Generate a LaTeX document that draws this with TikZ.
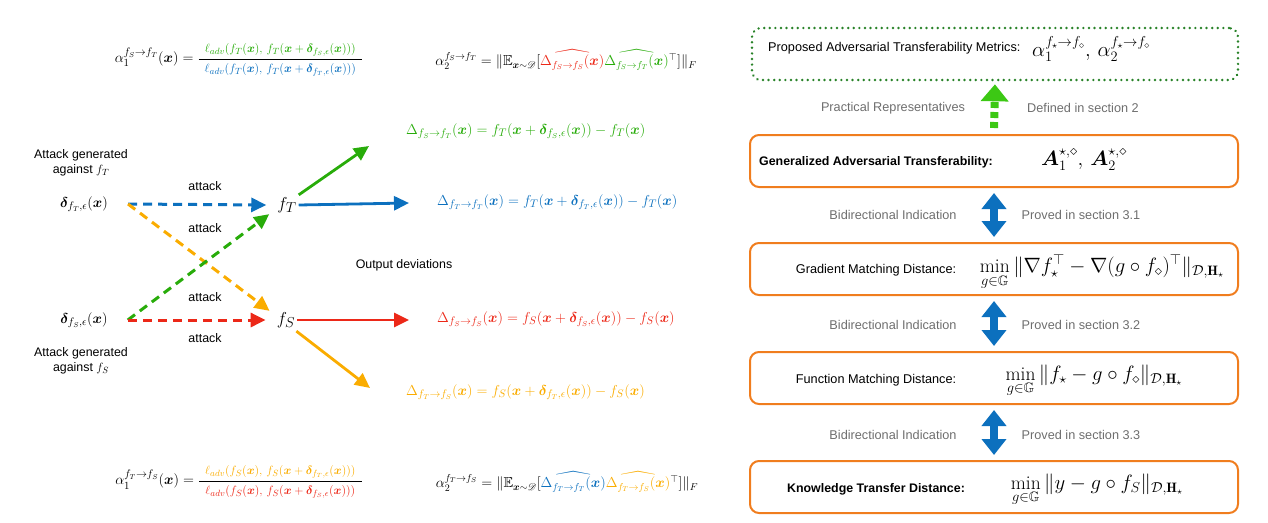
\documentclass[tikz,border=0pt]{standalone}
\usepackage{amsmath,amssymb,bm,mathrsfs}
\usepackage{fontspec}
\setsansfont{Liberation Sans}
\usetikzlibrary{arrows.meta}
\definecolor{cgreen}{RGB}{40,172,10}
\definecolor{cblue}{RGB}{12,112,190}
\definecolor{cred}{RGB}{236,40,24}
\definecolor{corange}{RGB}{250,172,0}
\definecolor{boxorange}{RGB}{240,125,30}
\definecolor{dotgreen}{RGB}{40,130,40}
\definecolor{brightgreen}{RGB}{60,200,20}
\definecolor{cgray}{RGB}{110,110,110}
\newcommand{\numsize}{\fontsize{13}{15}\selectfont}
\newcommand{\fracpart}[1]{\text{\numsize\hspace{6pt}$#1$\hspace{6pt}}}
\begin{document}
\begin{tikzpicture}[x=1pt,y=-1pt,
  lbl/.style={font=\sffamily\fontsize{12.4}{15}\selectfont, inner sep=1pt},
  rlbl/.style={font=\sffamily\fontsize{12.7}{15}\selectfont, inner sep=1pt},
  glbl/.style={rlbl, text=cgray},
  blbl/.style={font=\sffamily\bfseries\fontsize{12.4}{15}\selectfont, inner sep=1pt},
  mth/.style={font=\fontsize{15}{17}\selectfont, inner sep=1pt},
  smth/.style={font=\fontsize{14.5}{17}\selectfont, inner sep=1pt},
  bigm/.style={font=\fontsize{15}{17}\selectfont, inner sep=1pt},
  fnode/.style={font=\fontsize{19}{21}\selectfont, inner sep=2pt},
  rmth/.style={font=\fontsize{19.5}{22}\selectfont, inner sep=1pt},
  dasharrow/.style={line width=3pt, dash pattern=on 9pt off 6pt, -{Triangle[width=14pt,length=15pt]}},
  solarrow/.style={line width=2.8pt, -{Triangle[width=14pt,length=15pt]}},
  bigbox/.style={draw=boxorange, line width=2pt, rounded corners=9pt, minimum width=488pt, minimum height=52pt},
  dblarrow/.style={draw=cblue, line width=8.5pt, {Triangle[width=24pt,length=16pt]}-{Triangle[width=24pt,length=16pt]}, shorten <=5pt, shorten >=5pt}
]
\useasboundingbox (0,0) rectangle (1268,522);

% ---------- top formulas ----------
\node[bigm] (a1top) at (239,60) {$\alpha_1^{f_S\to f_T}(\bm{x}) = \dfrac{\fracpart{\color{cgreen}\ell_{adv}(f_T(\bm{x}),\, f_T(\bm{x}+\bm{\delta}_{f_S,\epsilon}(\bm{x})))}}{\fracpart{\color{cblue}\ell_{adv}(f_T(\bm{x}),\, f_T(\bm{x}+\bm{\delta}_{f_T,\epsilon}(\bm{x})))}}$};
\node[smth] (a2top) at (566,60) {$\alpha_2^{f_S\to f_T} = \|\mathbb{E}_{\bm{x}\sim\mathscr{D}}[{\color{cred}\widehat{\Delta_{f_S\to f_S}(\bm{x})}}{\color{cgreen}\widehat{\Delta_{f_S\to f_T}(\bm{x})}}^{\top}]\|_F$};

% ---------- bottom formulas ----------
\node[bigm] (a1bot) at (239,482) {$\alpha_1^{f_T\to f_S}(\bm{x}) = \dfrac{\fracpart{\color{corange}\ell_{adv}(f_S(\bm{x}),\, f_S(\bm{x}+\bm{\delta}_{f_T,\epsilon}(\bm{x})))}}{\fracpart{\color{cred}\ell_{adv}(f_S(\bm{x}),\, f_S(\bm{x}+\bm{\delta}_{f_S,\epsilon}(\bm{x})))}}$};
\node[smth] (a2bot) at (567,482) {$\alpha_2^{f_T\to f_S} = \|\mathbb{E}_{\bm{x}\sim\mathscr{D}}[{\color{cblue}\widehat{\Delta_{f_T\to f_T}(\bm{x})}}{\color{corange}\widehat{\Delta_{f_T\to f_S}(\bm{x})}}^{\top}]\|_F$};

% ---------- left graph ----------
\node[lbl, align=center] (atT) at (81,163) {Attack generated\\against $f_T$};
\node[bigm] (dT) at (84,204) {$\bm{\delta}_{f_T,\epsilon}(\bm{x})$};
\node[bigm] (dS) at (84,320) {$\bm{\delta}_{f_S,\epsilon}(\bm{x})$};
\node[lbl, align=center] (atS) at (81,361) {Attack generated\\against $f_S$};
\node[fnode] (fT) at (287,205) {$f_T$};
\node[fnode] (fS) at (286,320) {$f_S$};

\node[lbl] (l1) at (205,186) {attack};
\node[lbl] (l2) at (205,228) {attack};
\node[lbl] (l3) at (205,297) {attack};
\node[lbl] (l4) at (205,338) {attack};
\node[lbl] (od) at (404,265) {Output deviations};

\draw[dasharrow, cblue] ([xshift=19pt]dT.east) -- ([xshift=-9pt]fT.west);
\draw[dasharrow, corange] ([xshift=19pt]dT.east) -- ([xshift=-5pt,yshift=-1pt]fS.north west);
\draw[dasharrow, cgreen] ([xshift=19pt]dS.east) -- ([xshift=-6pt,yshift=1pt]fT.south west);
\draw[dasharrow, cred] ([xshift=19pt]dS.east) -- ([xshift=-9pt]fS.west);

% output deviations
\node[mth, text=cgreen, anchor=west] (DgT) at (405,131) {$\Delta_{f_S\to f_T}(\bm{x}) = f_T(\bm{x}+\bm{\delta}_{f_S,\epsilon}(\bm{x})) - f_T(\bm{x})$};
\node[mth, text=cblue, anchor=west] (DbT) at (436,202) {$\Delta_{f_T\to f_T}(\bm{x}) = f_T(\bm{x}+\bm{\delta}_{f_T,\epsilon}(\bm{x})) - f_T(\bm{x})$};
\node[mth, text=cred, anchor=west] (DrS) at (436,319) {$\Delta_{f_S\to f_S}(\bm{x}) = f_S(\bm{x}+\bm{\delta}_{f_S,\epsilon}(\bm{x})) - f_S(\bm{x})$};
\node[mth, text=corange, anchor=west] (DoS) at (405,392) {$\Delta_{f_T\to f_S}(\bm{x}) = f_S(\bm{x}+\bm{\delta}_{f_T,\epsilon}(\bm{x})) - f_S(\bm{x})$};

\coordinate (gEnd) at (369,146);
\coordinate (bEnd) at (409,203);
\coordinate (rEnd) at (409,320);
\coordinate (oEnd) at (370,388);
\draw[solarrow, cgreen] ([xshift=0pt]fT.north east) -- (gEnd);
\draw[solarrow, cblue] (fT.east) -- (bEnd);
\draw[solarrow, cred] (fS.east) -- (rEnd);
\draw[solarrow, corange] ([xshift=-1pt,yshift=-1pt]fS.south east) -- (oEnd);

% ---------- right column ----------
\node[draw=dotgreen, line width=2.6pt, dash pattern=on 0.1pt off 5.5pt, line cap=round, rounded corners=9pt, minimum width=486pt, minimum height=52pt] (b0) at (995,54) {};
\node[rlbl, anchor=west] (t0) at (767,48) {Proposed Adversarial Transferability Metrics:};
\node[rmth, font=\fontsize{20}{22}\selectfont, anchor=west] (m0) at (1031,49) {$\alpha_1^{f_\star\to f_\diamond},\, \alpha_2^{f_\star\to f_\diamond}$};

\node[bigbox] (b1) at (994,161) {};
\node[blbl] (t1) at (876,162) {Generalized Adversarial Transferability:};
\node[rmth, font=\fontsize{20}{22}\selectfont] (m1) at (1084,160) {$\bm{A}_1^{\star,\diamond},\, \bm{A}_2^{\star,\diamond}$};

\node[bigbox] (b2) at (994,269) {};
\node[rlbl] (t2) at (876,270) {Gradient Matching Distance:};
\node[rmth] (m2) at (1102,272) {$\displaystyle\min_{g\in\mathbb{G}} \|\nabla f_\star^{\top} - \nabla(g\circ f_\diamond)^{\top}\|_{\mathcal{D},\mathbf{H}_\star}$};

\node[bigbox] (b3) at (994,378) {};
\node[rlbl] (t3) at (876,380) {Function Matching Distance:};
\node[rmth] (m3) at (1094,381) {$\displaystyle\min_{g\in\mathbb{G}} \|f_\star - g\circ f_\diamond\|_{\mathcal{D},\mathbf{H}_\star}$};

\node[bigbox] (b4) at (994,487) {};
\node[blbl] (t4) at (876,489) {Knowledge Transfer Distance:};
\node[rmth] (m4) at (1097,490) {$\displaystyle\min_{g\in\mathbb{G}} \|y - g\circ f_S\|_{\mathcal{D},\mathbf{H}_\star}$};

% connectors
\draw[brightgreen, line width=8pt, dash pattern=on 6pt off 4pt, -{Triangle[width=27pt,length=17pt]}, shorten <=6pt, shorten >=3pt] (b1.north) -- (b0.south);
\draw[dblarrow] (b1.south) -- (b2.north);
\draw[dblarrow] (b2.south) -- (b3.north);
\draw[dblarrow] (b3.south) -- (b4.north);

\node[glbl] (g0a) at (893,108) {Practical Representatives};
\node[glbl] (g0b) at (1083,108) {Defined in section 2};
\node[glbl] (g1a) at (893,215) {Bidirectional Indication};
\node[glbl] (g1b) at (1081,215) {Proved in section 3.1};
\node[glbl] (g2a) at (893,325) {Bidirectional Indication};
\node[glbl] (g2b) at (1081,325) {Proved in section 3.2};
\node[glbl] (g3a) at (893,435) {Bidirectional Indication};
\node[glbl] (g3b) at (1081,435) {Proved in section 3.3};
\end{tikzpicture}
\end{document}
